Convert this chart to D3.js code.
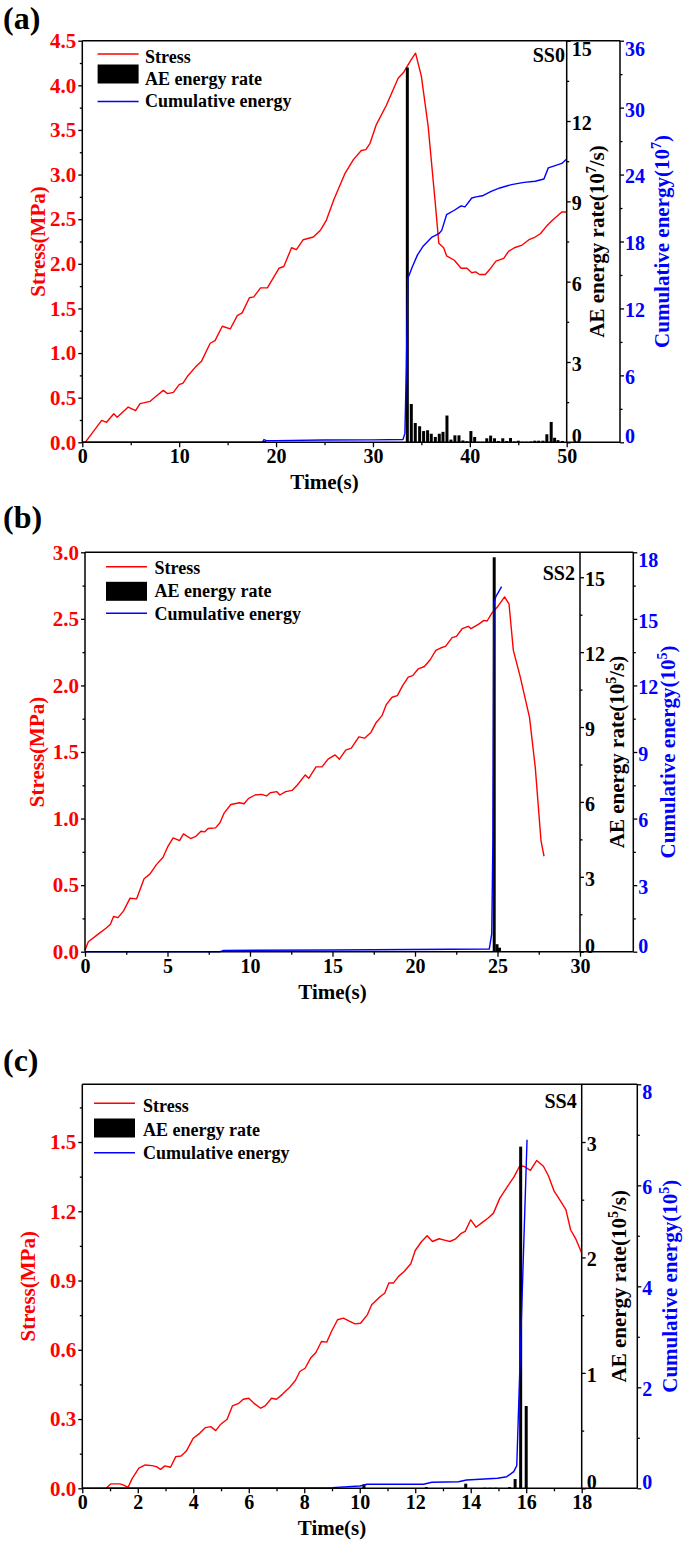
<!DOCTYPE html>
<html><head><meta charset="utf-8">
<script src="https://cdn.jsdelivr.net/npm/d3@7"></script>
<style>
body{margin:0;background:#fff}
svg{display:block}
text{font-family:'Liberation Serif','Times New Roman',serif;font-weight:bold}
</style>
</head><body>
<svg id="chart" width="685" height="1545"></svg>
<script>
// ---------------- Panel (a) SS0 ----------------
const stressTimeA = [0.3,2.0,2.5,3.25,3.6,4.74,5.5,5.96,7.0,7.68,8.36,8.8,9.4,10.0,10.4,10.9,11.65,12.3,13.2,13.7,14.45,15.27,16.0,16.5,17.25,17.7,18.4,19.1,20.3,20.8,21.6,22.1,22.8,23.85,24.6,25.2,25.97,27.1,28.0,28.8,29.27,29.7,30.35,31.4,32.6,33.2,33.9,34.4,35.0,35.7,36.4,36.8,37.3,37.6,38.4,39.1,39.7,40.2,40.6,41.0,41.6,42.0,42.7,43.5,44.0,44.6,45.4,46.1,46.75,47.3,47.9,48.55,49.5,50.0];
const stressA = [0,0.246,0.224,0.32,0.28,0.395,0.354,0.433,0.459,0.522,0.582,0.545,0.56,0.646,0.664,0.746,0.84,0.907,1.11,1.14,1.30,1.27,1.42,1.45,1.62,1.63,1.73,1.73,1.95,1.97,2.18,2.16,2.27,2.30,2.38,2.49,2.72,3.01,3.17,3.27,3.28,3.35,3.56,3.78,4.08,4.15,4.28,4.36,4.10,3.54,2.72,2.23,2.18,2.09,2.04,1.95,1.95,1.90,1.91,1.88,1.88,1.93,2.03,2.06,2.14,2.18,2.21,2.27,2.30,2.34,2.42,2.49,2.58,2.58];
const cumTimeA = [0,18.6,18.75,19.0,20,25,30,33.1,33.3,33.45,33.6,33.7,34.1,34.6,35.2,36.1,36.8,37.1,37.6,38.4,39.1,39.5,40.2,40.65,41.3,42.2,43.1,44.3,45.6,46.75,47.65,48.1,48.8,49.5,50];
const cumA = [0,0,0.25,0.15,0.15,0.2,0.22,0.25,0.8,6.8,14.7,14.9,15.8,16.8,17.6,18.4,18.7,19.0,20.4,20.8,21.2,21.1,21.9,22.0,22.1,22.5,22.8,23.1,23.3,23.4,23.6,24.6,24.8,25.0,25.4];
const aeTimeA = [18.8,33.55,33.96,34.37,34.82,35.23,35.64,36.02,36.44,36.85,37.23,37.64,38.05,38.46,38.88,39.29,39.7,40.11,40.5,40.9,41.3,41.75,42.15,42.55,42.95,43.4,43.8,44.2,44.6,45.0,45.45,45.85,46.3,46.7,47.1,47.55,47.95,48.4,48.75,49.1,49.55];
const aeA = [0.05,14.0,1.43,0.72,0.6,0.42,0.45,0.32,0.2,0.32,0.39,1.0,0.1,0.26,0.26,0.07,0.04,0.42,0.2,0.02,0.02,0.15,0.25,0.15,0.05,0.15,0.05,0.16,0.03,0.06,0.02,0.02,0.03,0.06,0.06,0.06,0.3,0.76,0.17,0.08,0.05];

// ---------------- Panel (b) SS2 ----------------
const stressTimeB = [0,0.2,0.74,1.27,1.54,1.73,2.0,2.34,2.73,3.13,3.58,3.93,4.33,4.73,5.0,5.34,5.73,5.97,6.4,6.72,7.03,7.25,7.46,7.91,8.18,8.44,8.84,9.37,9.64,9.9,10.3,10.7,11.0,11.23,11.63,11.81,12.16,12.56,12.87,13.35,13.56,14.0,14.36,14.73,15.16,15.42,15.8,16.14,16.6,16.94,17.33,17.65,18.0,18.26,18.61,18.93,19.25,19.59,19.86,20.2,20.57,20.92,21.26,21.58,21.85,22.25,22.51,22.86,23.23,23.39,23.84,24.18,24.37,24.64,25.03,25.43,25.7,25.96,26.36,26.94,27.29,27.64,27.82];
const stressB = [0.01,0.075,0.126,0.176,0.206,0.264,0.256,0.307,0.402,0.397,0.548,0.583,0.654,0.709,0.785,0.855,0.835,0.885,0.85,0.867,0.905,0.9,0.925,0.93,0.968,1.043,1.106,1.119,1.111,1.15,1.177,1.182,1.17,1.194,1.202,1.177,1.202,1.212,1.252,1.328,1.302,1.388,1.388,1.446,1.478,1.446,1.514,1.529,1.614,1.604,1.647,1.722,1.773,1.856,1.911,1.924,1.999,2.062,2.074,2.125,2.142,2.193,2.263,2.283,2.293,2.359,2.369,2.426,2.444,2.426,2.459,2.489,2.484,2.54,2.595,2.665,2.61,2.263,2.074,1.76,1.383,0.83,0.717];
const cumTimeB = [0,8.2,8.4,15,24.5,24.65,24.72,24.78,24.9,25.25];
const cumB = [0,0,0.06,0.08,0.12,0.8,5,15.7,16.0,16.45];
const aeTimeB = [24.8,24.97,25.12];
const aeB = [15.8,0.3,0.16];

// ---------------- Panel (c) SS4 ----------------
const stressTimeC = [0.86,1.02,1.36,1.49,1.65,1.8,2.04,2.27,2.51,2.67,2.82,2.98,3.18,3.37,3.56,3.76,4.0,4.23,4.44,4.63,4.81,4.97,5.22,5.41,5.64,5.8,6.0,6.19,6.43,6.59,6.82,7.0,7.21,7.45,7.68,7.84,8.03,8.23,8.42,8.62,8.81,8.98,9.2,9.41,9.64,9.83,10.03,10.27,10.43,10.74,10.9,11.05,11.21,11.4,11.6,11.84,12.0,12.23,12.43,12.62,12.86,13.09,13.25,13.44,13.64,13.8,14.0,14.19,14.42,14.63,14.82,15.05,15.37,15.57,15.76,15.91,16.15,16.38,16.62,16.8,17.01,17.17,17.43,17.6,17.8,18.0];
const stressC = [0,0.019,0.019,0.014,0.004,0.043,0.087,0.101,0.098,0.094,0.082,0.097,0.091,0.137,0.14,0.163,0.217,0.238,0.263,0.267,0.25,0.275,0.299,0.357,0.368,0.386,0.39,0.368,0.347,0.357,0.39,0.386,0.407,0.434,0.467,0.506,0.52,0.564,0.588,0.636,0.633,0.679,0.73,0.737,0.723,0.712,0.715,0.751,0.795,0.831,0.845,0.889,0.889,0.918,0.939,0.973,1.03,1.069,1.094,1.069,1.081,1.074,1.069,1.079,1.103,1.113,1.163,1.131,1.152,1.171,1.192,1.257,1.315,1.351,1.395,1.395,1.377,1.42,1.395,1.354,1.286,1.257,1.207,1.12,1.077,1.019];
const cumTimeC = [0,9.0,10.0,10.15,10.25,12.3,12.6,13.56,13.85,14.97,15.3,15.55,15.66,16.03];
const cumC = [0,0.013,0.046,0.06,0.08,0.08,0.12,0.13,0.165,0.2,0.23,0.33,0.45,6.9];
const aeTimeC = [10.15,12.4,13.82,14.5,14.7,14.9,15.4,15.6,15.8,16.0];
const aeC = [0.035,0.01,0.04,0.005,0.005,0.005,0.01,0.08,2.96,0.713];

// ---------------- Tick labels ----------------
const xTicksA = [0,10,20,30,40,50], xMinorA = [5,15,25,35,45];
const sTicksA = [0,0.5,1,1.5,2,2.5,3,3.5,4,4.5], sMinorA = [0.25,0.75,1.25,1.75,2.25,2.75,3.25,3.75,4.25];
const aTicksA = [0,3,6,9,12,15], aMinorA = [1.5,4.5,7.5,10.5,13.5];
const cTicksA = [0,6,12,18,24,30,36], cMinorA = [3,9,15,21,27,33];

const xTicksB = [0,5,10,15,20,25,30], xMinorB = [2.5,7.5,12.5,17.5,22.5,27.5];
const sTicksB = [0,0.5,1,1.5,2,2.5,3], sMinorB = [0.25,0.75,1.25,1.75,2.25,2.75];
const aTicksB = [0,3,6,9,12,15], aMinorB = [1.5,4.5,7.5,10.5,13.5];
const cTicksB = [0,3,6,9,12,15,18], cMinorB = [1.5,4.5,7.5,10.5,13.5,16.5];

const xTicksC = [0,2,4,6,8,10,12,14,16,18], xMinorC = [1,3,5,7,9,11,13,15,17];
const sTicksC = [0,0.3,0.6,0.9,1.2,1.5], sMinorC = [0.15,0.45,0.75,1.05,1.35,1.65];
const aTicksC = [0,1,2,3], aMinorC = [0.5,1.5,2.5];
const cTicksC = [0,2,4,6,8], cMinorC = [1,3,5,7];

const legendNames = ["Stress","AE energy rate","Cumulative energy"];

const RED = "#ff0000", BLUE = "#0000ff", FONT = "'Liberation Serif','Times New Roman',serif";
const svg = d3.select('#chart');

function styleAxis(sel, color, size) {
  sel.attr('font-family', null).attr('font-size', null);
  sel.select('.domain').remove();
  sel.selectAll('line').attr('stroke', '#000').attr('stroke-width', 1.3);
  sel.selectAll('text').attr('fill', color).style('font-family', FONT)
     .style('font-weight', 'bold').style('font-size', size + 'px');
}

function drawPanel(p) {
  const g = svg.append('g');
  const x = d3.scaleLinear().domain(p.xDomain).range([p.L, p.R]);
  const yS = d3.scaleLinear().domain(p.sDomain).range([p.B, p.T]);
  const yA = d3.scaleLinear().domain(p.aDomain).range([p.B, p.T]);
  const yC = d3.scaleLinear().domain(p.cDomain).range([p.B, p.T]);

  g.append('path')
    .attr('d', d3.line().x(d => x(d[0])).y(d => yS(d[1]))(d3.zip(p.sT, p.sV)))
    .attr('fill', 'none').attr('stroke', RED).attr('stroke-width', 1.4).attr('stroke-linejoin', 'round');
  g.append('g').selectAll('rect').data(d3.zip(p.aT, p.aV)).join('rect')
    .attr('x', d => x(d[0]) - 1.5).attr('width', 3)
    .attr('y', d => yA(d[1])).attr('height', d => yA(0) - yA(d[1]))
    .attr('fill', '#000');
  g.append('path')
    .attr('d', d3.line().x(d => x(d[0])).y(d => yC(d[1]))(d3.zip(p.cT, p.cV)))
    .attr('fill', 'none').attr('stroke', BLUE).attr('stroke-width', 1.4).attr('stroke-linejoin', 'round');

  const fr = g.append('g').attr('stroke', '#000').attr('stroke-width', 1.5);
  fr.append('line').attr('x1', p.L).attr('x2', p.L).attr('y1', p.T).attr('y2', p.B);
  fr.append('line').attr('x1', p.L).attr('x2', p.Bx).attr('y1', p.T).attr('y2', p.T);
  fr.append('line').attr('x1', p.L).attr('x2', p.Bx).attr('y1', p.B).attr('y2', p.B);
  fr.append('line').attr('x1', p.R).attr('x2', p.R).attr('y1', p.T).attr('y2', p.B);
  fr.append('line').attr('x1', p.Bx).attr('x2', p.Bx).attr('y1', p.T).attr('y2', p.B);

  g.append('g').attr('transform', `translate(0,${p.B})`)
    .call(d3.axisBottom(x).tickValues(p.xTicks).tickSize(5).tickPadding(2).tickFormat(d3.format('d')))
    .call(s => styleAxis(s, '#000', 20));
  g.append('g').attr('transform', `translate(0,${p.B})`)
    .call(d3.axisBottom(x).tickValues(p.xMinor).tickSize(3).tickFormat(''))
    .call(s => styleAxis(s, '#000', 20));
  g.append('g').attr('transform', `translate(${p.L},0)`)
    .call(d3.axisLeft(yS).tickValues(p.sTicks).tickSize(4).tickPadding(2).tickFormat(d3.format('.1f')))
    .call(s => styleAxis(s, RED, 21));
  g.append('g').attr('transform', `translate(${p.L},0)`)
    .call(d3.axisLeft(yS).tickValues(p.sMinor).tickSize(2.5).tickFormat(''))
    .call(s => styleAxis(s, RED, 21));

  function rightAxis(scale, pos, ticks, minor, color) {
    const ax = g.append('g').attr('transform', `translate(${pos},0)`)
      .call(d3.axisRight(scale).tickValues(ticks).tickSize(4).tickPadding(1).tickFormat(d3.format('d')))
      .call(s => styleAxis(s, color, 20));
    ax.selectAll('.tick text').each(function(d) {
      const py = scale(d);
      let c = py + 2;
      if (c < p.T + 8) c = p.T + 8;
      if (c > p.B - 6) c = p.B - 6;
      d3.select(this).attr('y', c - py);
    });
    g.append('g').attr('transform', `translate(${pos},0)`)
      .call(d3.axisRight(scale).tickValues(minor).tickSize(2.5).tickFormat(''))
      .call(s => styleAxis(s, color, 20));
  }
  rightAxis(yA, p.R, p.aTicks, p.aMinor, '#000');
  rightAxis(yC, p.Bx, p.cTicks, p.cMinor, BLUE);

  const midY = (p.T + p.B) / 2;
  g.append('text').attr('x', (p.L + p.R) / 2).attr('y', p.B + 47).attr('text-anchor', 'middle')
    .attr('font-size', 21).attr('fill', '#000').text('Time(s)');
  g.append('text').attr('transform', `translate(${p.sTitleX},${midY}) rotate(-90)`).attr('dy', '0.35em')
    .attr('text-anchor', 'middle').attr('font-size', 21).attr('fill', RED).text('Stress(MPa)');
  const ta = g.append('text').attr('transform', `translate(${p.aTitleX},${midY}) rotate(-90)`).attr('dy', '0.35em')
    .attr('text-anchor', 'middle').attr('font-size', 21).attr('fill', '#000');
  ta.append('tspan').text('AE energy rate(10');
  ta.append('tspan').attr('dy', -8).attr('font-size', 14).text(p.expA);
  ta.append('tspan').attr('dy', 8).text('/s)');
  const tc = g.append('text').attr('transform', `translate(${p.cTitleX},${midY}) rotate(-90)`).attr('dy', '0.35em')
    .attr('text-anchor', 'middle').attr('font-size', 21).attr('fill', BLUE);
  tc.append('tspan').text('Cumulative energy(10');
  tc.append('tspan').attr('dy', -8).attr('font-size', 14).text(p.expC);
  tc.append('tspan').attr('dy', 8).text(')');

  const lg = g.append('g');
  lg.append('line').attr('x1', p.legX).attr('x2', p.legX + 41).attr('y1', p.legMark[0]).attr('y2', p.legMark[0])
    .attr('stroke', RED).attr('stroke-width', 1.5);
  lg.append('rect').attr('x', p.legX).attr('width', 41).attr('y', p.legMark[1] - 9.5).attr('height', 19).attr('fill', '#000');
  lg.append('line').attr('x1', p.legX).attr('x2', p.legX + 41).attr('y1', p.legMark[2]).attr('y2', p.legMark[2])
    .attr('stroke', BLUE).attr('stroke-width', 1.5);
  lg.selectAll('text').data(legendNames).join('text')
    .attr('x', p.legTextX).attr('y', (d, i) => p.legBase[i]).attr('font-size', 18).attr('fill', '#000').text(d => d);

  g.append('text').attr('x', p.ssX).attr('y', p.ssY).attr('text-anchor', 'end').attr('font-size', 20).text(p.ss);
  g.append('text').attr('x', 3).attr('y', p.letterY).attr('font-size', 32).text(p.letter);
}

drawPanel({letter:'(a)', letterY:29, ss:'SS0', ssX:565, ssY:61.7,
  L:82.3, R:566.7, Bx:620, T:40.7, B:442.3,
  xDomain:[0,50], sDomain:[0,4.5], aDomain:[0,15], cDomain:[0,36],
  sT:stressTimeA, sV:stressA, cT:cumTimeA, cV:cumA, aT:aeTimeA, aV:aeA,
  xTicks:xTicksA, xMinor:xMinorA, sTicks:sTicksA, sMinor:sMinorA, aTicks:aTicksA, aMinor:aMinorA, cTicks:cTicksA, cMinor:cMinorA,
  expA:'7', expC:'7', sTitleX:37.5, aTitleX:596.7, cTitleX:661.7,
  legX:97.6, legTextX:145, legMark:[54,74,101.5], legBase:[62.5,84.7,107]});

drawPanel({letter:'(b)', letterY:528, ss:'SS2', ssX:575, ssY:580,
  L:85, R:580, Bx:633.3, T:552.3, B:951.7,
  xDomain:[0,30], sDomain:[0,3], aDomain:[0,16], cDomain:[0,18],
  sT:stressTimeB, sV:stressB, cT:cumTimeB, cV:cumB, aT:aeTimeB, aV:aeB,
  xTicks:xTicksB, xMinor:xMinorB, sTicks:sTicksB, sMinor:sMinorB, aTicks:aTicksB, aMinor:aMinorB, cTicks:cTicksB, cMinor:cMinorB,
  expA:'5', expC:'5', sTitleX:37, aTitleX:616.7, cTitleX:668,
  legX:106, legTextX:154.5, legMark:[566.7,591.3,613.3], legBase:[574,597,620]});

drawPanel({letter:'(c)', letterY:1071, ss:'SS4', ssX:576.7, ssY:1108,
  L:82.3, R:581.7, Bx:637.3, T:1084.3, B:1488.3,
  xDomain:[0,18], sDomain:[0,1.75], aDomain:[0,3.5], cDomain:[0,8],
  sT:stressTimeC, sV:stressC, cT:cumTimeC, cV:cumC, aT:aeTimeC, aV:aeC,
  xTicks:xTicksC, xMinor:xMinorC, sTicks:sTicksC, sMinor:sMinorC, aTicks:aTicksC, aMinor:aMinorC, cTicks:cTicksC, cMinor:cMinorC,
  expA:'5', expC:'5', sTitleX:28, aTitleX:619, cTitleX:670,
  legX:94, legTextX:143, legMark:[1103.3,1128,1152.7], legBase:[1112,1136,1159]});
</script>
</body></html>
